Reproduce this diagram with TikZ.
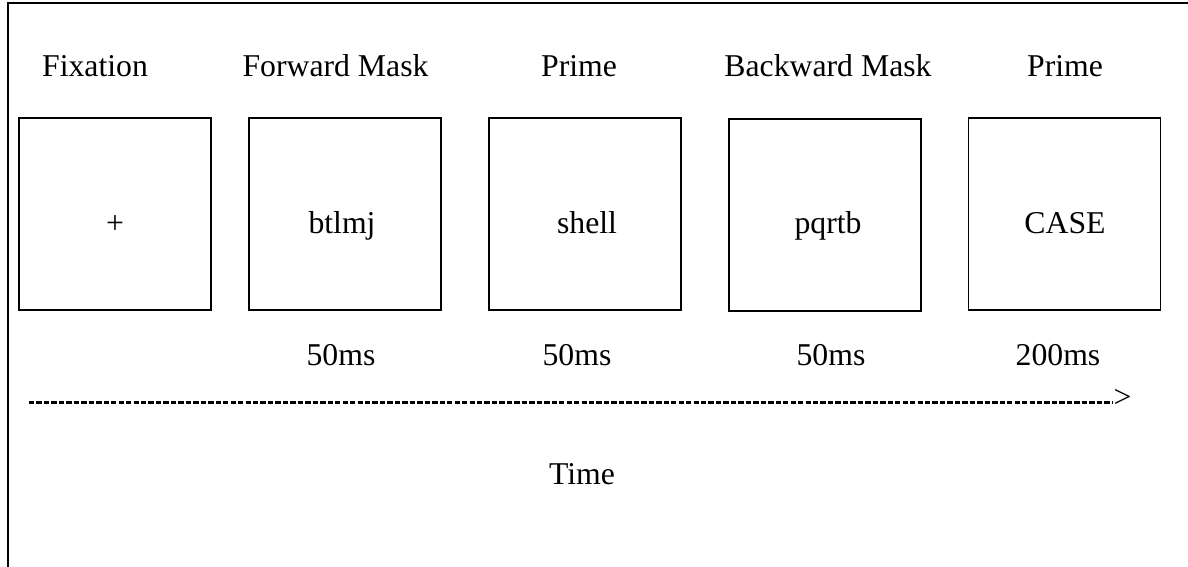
\documentclass[tikz,border=0pt]{standalone}
\usepackage{fontspec}
\setmainfont{Liberation Serif}

\tikzset{every picture/.style={line width=0.75pt}}
\tikzset{stimbox/.style={draw, line width=1.3pt, rectangle, minimum width=144pt, minimum height=144pt, inner sep=0pt}}
\tikzset{lbl/.style={anchor=base, inner sep=0pt, font=\fontsize{23.8}{28}\selectfont}}

\begin{document}
\begin{tikzpicture}[x=0.75pt,y=0.75pt,yscale=-1,xscale=1]
\useasboundingbox (0,0) rectangle (1188,567);

%Frame
\draw [line width=1.2pt]   (8,567) -- (8,3) -- (1188,3) ;

%Shapes
\node [stimbox] (fixbox) at (115.3,214) {};
\node [stimbox] (fwdbox) at (345.3,214) {};
\node [stimbox] (primebox) at (585.2,214) {};
\node [stimbox] (bwdbox) at (825.2,215) {};
\node [stimbox] (targetbox) at (1064.5,214) {};

% Text Node
\node [lbl] (fixlbl) at (95,76) {Fixation};
% Text Node
\node [lbl] (fwdlbl) at (335.5,76) {Forward Mask};
% Text Node
\node [lbl] (primelbl) at (579,76) {Prime};
% Text Node
\node [lbl] (bwdlbl) at (828,76) {Backward Mask};
% Text Node
\node [lbl] (targetlbl) at (1065,76) {Prime};

% Text Node
\node [lbl] (fixtxt) at (115,233) {+};
% Text Node
\node [lbl] (fwdtxt) at (342,233) {btlmj};
% Text Node
\node [lbl] (primetxt) at (587,233) {shell};
% Text Node
\node [lbl] (bwdtxt) at (828,233) {pqrtb};
% Text Node
\node [lbl] (targettxt) at (1065,233) {CASE};

% Text Node
\node [lbl] (fwdms) at (341,365) {50ms};
% Text Node
\node [lbl] (primems) at (577,365) {50ms};
% Text Node
\node [lbl] (bwdms) at (831,365) {50ms};
% Text Node
\node [lbl] (targetms) at (1058,365) {200ms};

%Time line
\coordinate (tstart) at (29,402.5);
\node [lbl, anchor=base west] (tarrow) at (1113,407) {>};
\draw [line width=1.6pt, dash pattern=on 4pt off 1.6pt]   (tstart) -- (tarrow.west |- tstart) ;

% Text Node
\node [lbl] (timelbl) at (582,484) {Time};

\end{tikzpicture}
\end{document}
